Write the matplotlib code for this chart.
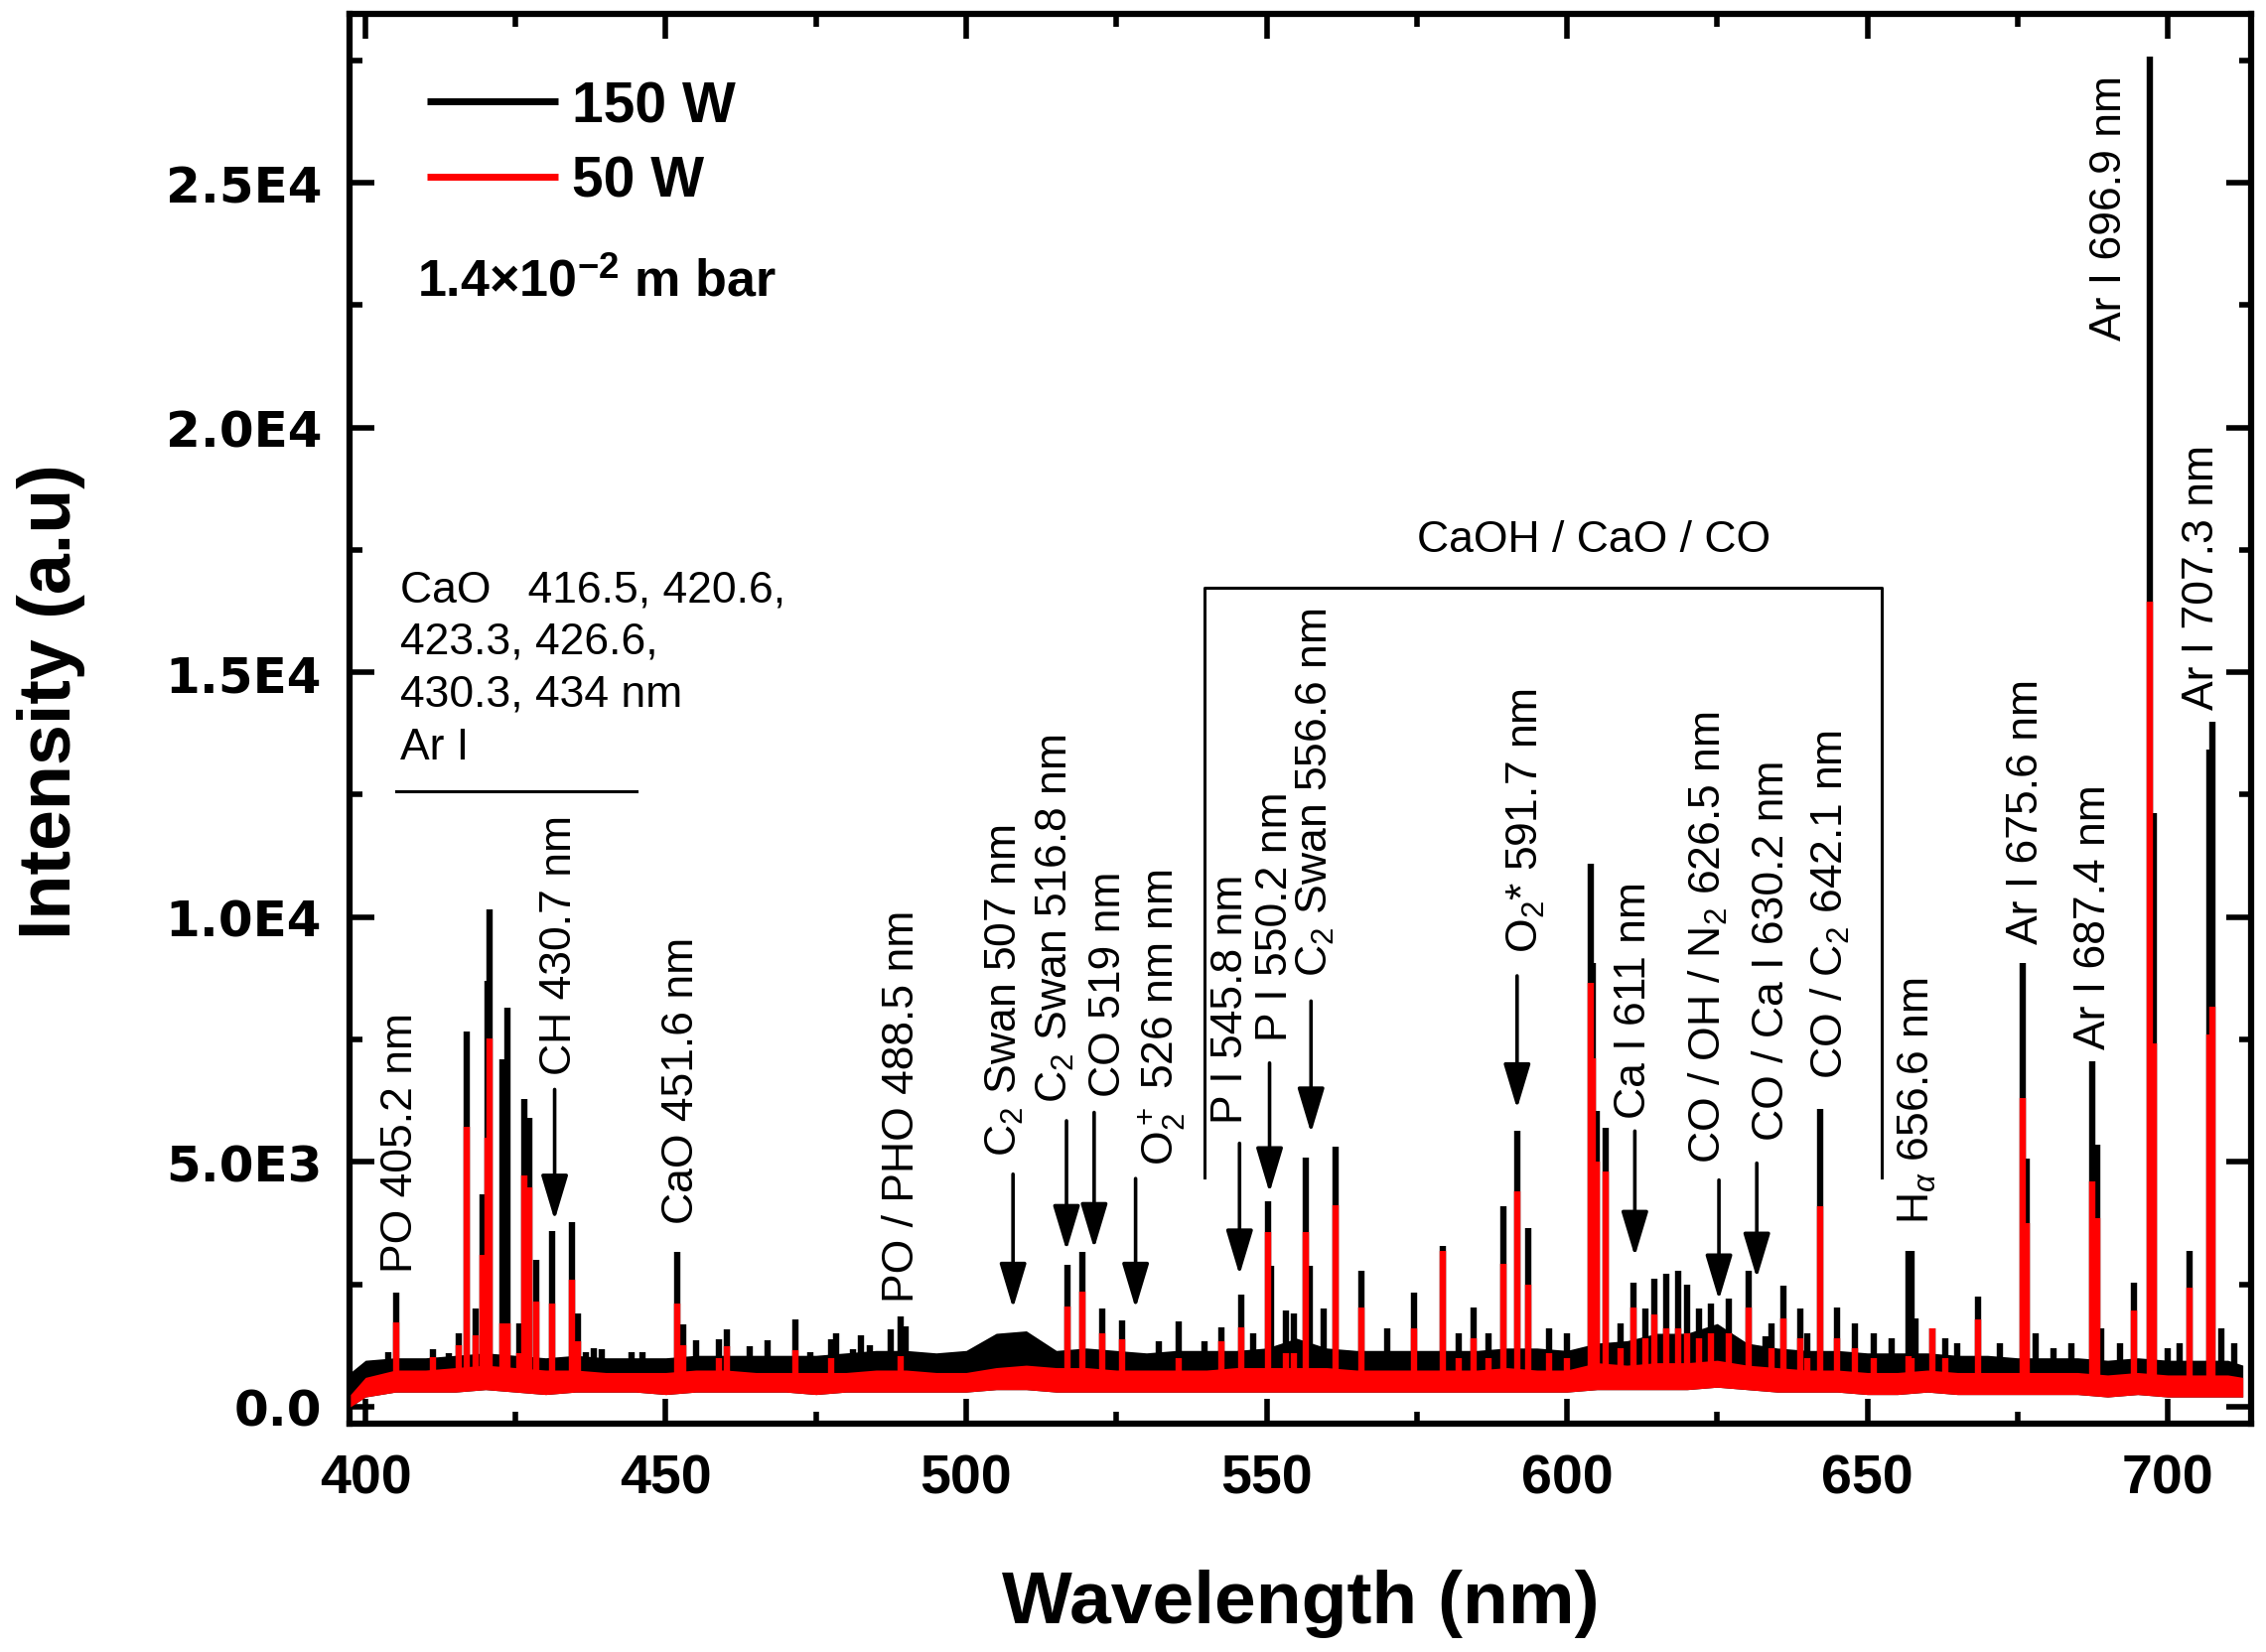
import numpy as np
import matplotlib
matplotlib.use("Agg")
import matplotlib.pyplot as plt
from matplotlib.ticker import MultipleLocator, FixedLocator, FixedFormatter

plt.rcParams['font.family'] = ['Liberation Sans', 'DejaVu Sans']
plt.rcParams['mathtext.fontset'] = 'custom'
plt.rcParams['mathtext.rm'] = 'Liberation Sans'
plt.rcParams['mathtext.it'] = 'Liberation Sans:italic'
plt.rcParams['mathtext.bf'] = 'Liberation Sans:bold'

# ---------------- data ----------------
# noise band envelopes (nm, a.u.)
env_wl = [397.5, 400, 405, 410, 415, 420, 425, 430, 435, 440, 445, 450, 455, 460,
          465, 470, 475, 480, 485, 490, 495, 500, 505, 510, 515, 520, 525, 530,
          535, 540, 545, 550, 555, 560, 565, 570, 575, 580, 585, 590, 595, 600,
          605, 610, 615, 620, 625, 630, 635, 640, 645, 650, 655, 660, 665, 670,
          675, 680, 685, 690, 695, 700, 705, 710, 712.5]
env_150_top = [700, 950, 1000, 1000, 1050, 1100, 1050, 1000, 1050, 1000, 1000, 1000,
               1050, 1050, 1050, 1050, 1050, 1100, 1150, 1150, 1100, 1150, 1500, 1550,
               1150, 1200, 1150, 1100, 1150, 1150, 1150, 1200, 1400, 1200, 1150, 1150,
               1150, 1150, 1150, 1200, 1200, 1150, 1300, 1350, 1500, 1500, 1700, 1300,
               1200, 1150, 1150, 1100, 1100, 1100, 1050, 1050, 1000, 1000, 1000, 950,
               1000, 950, 950, 950, 850]
env_50_top = [250, 600, 750, 750, 800, 850, 800, 750, 750, 700, 700, 700, 750, 750,
              700, 700, 700, 700, 750, 750, 700, 700, 800, 850, 800, 800, 750, 750,
              750, 750, 800, 800, 800, 800, 750, 750, 750, 750, 750, 800, 750, 750,
              900, 850, 900, 900, 950, 850, 800, 750, 750, 700, 700, 750, 700, 700,
              700, 700, 700, 650, 700, 650, 650, 650, 600]
env_50_bottom = [0, 200, 300, 300, 300, 350, 300, 250, 300, 300, 300, 250, 300, 300,
                 300, 300, 250, 300, 300, 300, 300, 300, 350, 350, 300, 300, 300, 300,
                 300, 300, 300, 300, 300, 300, 300, 300, 300, 300, 300, 300, 300, 300,
                 350, 350, 350, 350, 400, 350, 300, 300, 300, 250, 250, 300, 250, 250,
                 250, 250, 250, 200, 250, 200, 200, 200, 200]

# emission peaks: wavelength, intensity at 150 W, intensity at 50 W (0 = not visible)
peak_wl = [403.8, 405.2, 411.3, 413.9, 415.5, 416.8, 418.3, 419.5, 420.3, 420.7,
           422.8, 423.6, 425.7, 426.4, 427.2, 428.4, 431.0, 434.4, 435.3, 436.7,
           438.0, 439.3, 444.3, 446.2, 451.9, 452.9, 455.1, 458.9, 460.2, 464.0,
           466.9, 471.5, 474.1, 477.6, 478.4, 481.1, 482.5, 483.9, 487.5, 489.1,
           490.0, 501.7, 516.8, 519.4, 522.7, 526.0, 532.0, 535.3, 539.7, 542.5,
           545.8, 547.7, 550.2, 550.7, 553.3, 554.5, 556.5, 557.2, 559.5, 561.5,
           565.8, 570.0, 574.6, 579.3, 582.0, 584.5, 587.0, 589.4, 591.7, 593.5,
           597.0, 600.0, 603.9, 604.3, 605.0, 606.4, 609.0, 611.0, 613.0, 614.5,
           616.5, 618.5, 620.0, 622.0, 624.0, 627.0, 630.2, 633.0, 634.0, 636.0,
           638.8, 640.0, 642.1, 645.0, 648.0, 651.0, 654.0, 656.8, 657.3, 658.0,
           660.9, 663.0, 665.0, 668.4, 672.0, 675.8, 676.5, 678.0, 681.0, 684.0,
           687.5, 688.2, 689.0, 692.0, 694.3, 697.0, 697.7, 700.0, 702.0, 703.6,
           707.0, 707.4, 709.0, 711.0]
peak_150 = [1110, 2340, 1180, 1100, 1500, 7670, 2000, 4340, 8700, 10150,
            7100, 8150, 1700, 6280, 5900, 3000, 3580, 3780, 1900, 1110,
            1200, 1180, 1110, 1110, 3170, 1690, 1350, 1380, 1590, 1240,
            1350, 1785, 1110, 1380, 1510, 1180, 1450, 1250, 1590, 1850,
            1650, 1210, 2900, 3170, 2010, 1760, 1340, 1740, 1340, 1630,
            2300, 1500, 4200, 2870, 1970, 1900, 5085, 2870, 2005, 5310,
            2770, 1600, 2330, 3275, 1500, 2035, 1500, 4100, 5635, 3658,
            1600, 1500, 11100, 9065, 6040, 5700, 1700, 2540, 2000, 2625,
            2715, 2770, 2500, 2000, 2100, 2200, 2770, 1445, 1700, 2480,
            2000, 1500, 6080, 2035, 1700, 1500, 1400, 3190, 3190, 1800,
            1600, 1400, 1300, 2255, 1300, 9060, 5070, 1500, 1200, 1300,
            7050, 5350, 1600, 1300, 2540, 27580, 12120, 1200, 1300, 3190,
            13430, 14000, 1600, 1300]
peak_50 = [0, 1720, 1010, 0, 1250, 5720, 1450, 3100, 5500, 7530,
           1700, 1700, 1100, 4730, 4490, 2150, 2100, 2600, 1340, 0,
           0, 0, 0, 0, 2110, 1250, 0, 1000, 1240, 0,
           0, 1150, 0, 1000, 0, 0, 0, 0, 0, 1040,
           0, 0, 2055, 2350, 1500, 1375, 0, 1000, 0, 1340,
           1630, 0, 3570, 0, 1100, 1100, 3560, 0, 0, 4120,
           2035, 0, 1600, 3186, 1000, 1400, 1000, 2920, 4395, 2500,
           1100, 1000, 8660, 7118, 5000, 4800, 1200, 2035, 1400, 1890,
           1600, 1600, 1500, 1400, 1500, 1500, 2035, 0, 1200, 1800,
           1400, 1000, 4100, 1400, 1200, 1000, 0, 1030,
           1000, 0, 1600, 1000, 0, 1785, 0, 6300, 3760, 0, 0, 0,
           4600, 3850, 0, 0, 1970, 16440, 7420, 0, 0, 2440,
           7610, 8170, 0, 0]

# line identifications (rotated labels): text, x (nm), bottom of text (a.u.)
label_text = ["PO 405.2 nm", "CH 430.7 nm", "CaO 451.6 nm", "PO / PHO 488.5 nm",
              "C$_2$ Swan 507 nm", "C$_2$ Swan 516.8 nm", "CO 519 nm",
              "O$_2^+$ 526 nm nm", "P I 545.8 nm", "P I 550.2 nm",
              "C$_2$ Swan 556.6 nm", "O$_2$* 591.7 nm", "Ca I 611 nm",
              "CO / OH / N$_2$ 626.5 nm", "CO / Ca I 630.2 nm", "CO / C$_2$ 642.1 nm",
              "H$_\\alpha$ 656.6 nm", "Ar I 675.6 nm", "Ar I 687.4 nm",
              "Ar I 696.9 nm", "Ar I 707.3 nm"]
label_wl = [405.9, 432.4, 452.7, 489.4, 506.4, 514.9, 523.8, 532.4, 544.1, 551.5,
            558.2, 593.2, 611.1, 623.5, 634.2, 643.8, 658.4, 676.4, 687.7, 690.4, 705.7]
label_y = [2765, 6790, 3750, 2156, 5130, 6220, 6348, 4956, 5805, 7485,
           8800, 9295, 5900, 4990, 5444, 6710, 3750, 9473, 7320, 21800, 14260]

# arrows: x (nm), tail and tip (a.u.)
arrow_wl = [431.5, 507.8, 516.7, 521.3, 528.2, 545.5, 550.5, 557.4, 591.7, 611.3, 625.3, 631.6]
arrow_tail = [6480, 4750, 5840, 6010, 4660, 5380, 7020, 8285, 8800, 5630, 4630, 4975]
arrow_tip = [3810, 2010, 3190, 3230, 2010, 2690, 4370, 5590, 6085, 3070, 2180, 2625]

xtick_vals = [400, 450, 500, 550, 600, 650, 700]
ytick_vals = [0, 5000, 10000, 15000, 20000, 25000]
ytick_labels = ["0.0", "5.0E3", "1.0E4", "1.5E4", "2.0E4", "2.5E4"]

# ---------------- figure ----------------
fig = plt.figure(figsize=(22.82, 16.65), dpi=100)
ax = fig.add_axes([0.15425, 0.13814, 0.83918, 0.85285])

pw = np.array(peak_wl)
p150 = np.array(peak_150, dtype=float)
p50 = np.array(peak_50, dtype=float)
b150 = np.interp(pw, env_wl, env_150_top)
b50 = np.interp(pw, env_wl, env_50_top)

LW = 4.6
ax.fill_between(env_wl, env_50_bottom, env_150_top, color='black', lw=0, zorder=2)
m = p150 > b150
ax.vlines(pw[m], b150[m] - 200, p150[m], color='black', lw=LW, zorder=2, label='150 W')
ax.fill_between(env_wl, env_50_bottom, env_50_top, color='red', lw=0, zorder=3)
m = p50 > b50
ax.vlines(pw[m], b50[m] - 200, p50[m], color='red', lw=LW, zorder=3, label='50 W')

ax.set_xlim(397.36, 713.88)
ax.set_ylim(-345, 28447)

# ticks
ax.xaxis.set_major_locator(FixedLocator(xtick_vals))
ax.xaxis.set_major_formatter(FixedFormatter([str(v) for v in xtick_vals]))
ax.xaxis.set_minor_locator(MultipleLocator(25))
ax.yaxis.set_major_locator(FixedLocator(ytick_vals))
ax.yaxis.set_major_formatter(FixedFormatter(ytick_labels))
ax.yaxis.set_minor_locator(MultipleLocator(2500))
ax.tick_params(which='both', direction='in', top=True, right=True, width=4)
ax.tick_params(which='major', length=18)
ax.tick_params(which='minor', length=9)
ax.tick_params(axis='x', which='major', pad=21, labelsize=40)
ax.tick_params(axis='y', which='major', pad=20, labelsize=36)
for lbl in ax.get_xticklabels():
    lbl.set_fontweight('bold')
for lbl in ax.get_yticklabels():
    lbl.set_fontweight('bold')
    lbl.set_fontfamily('DejaVu Sans')
for s in ax.spines.values():
    s.set_linewidth(4.5)

ax.set_xlabel('Wavelength (nm)', fontsize=54, fontweight='bold')
ax.xaxis.label.set_va('center')
ax.xaxis.set_label_coords(0.5, -0.1271)
ax.set_ylabel('Intensity (a.u)', fontsize=53, fontweight='bold')
ax.yaxis.label.set_va('center')
ax.yaxis.set_label_coords(-0.157, 0.513)

# legend
leg = ax.legend(loc='upper left', bbox_to_anchor=(0.0407, 0.9535), frameon=False,
                prop=dict(weight='bold', size=41), handlelength=2.32,
                handletextpad=0.25, labelspacing=0.38, borderpad=0, borderaxespad=0)
for h in leg.legend_handles:
    h.set_linewidth(5)

ax.text(408.6, 22700, "1.4×10$^{\\mathbf{-2}}$ m bar", fontsize=37.5, fontweight='bold',
        ha='left', va='baseline')

# annotations
for t, x, y in zip(label_text, label_wl, label_y):
    ax.text(x, y, t, rotation=90, ha='center', va='bottom', fontsize=32, zorder=5)

for x, y0, y1 in zip(arrow_wl, arrow_tail, arrow_tip):
    ax.annotate('', xy=(x, y1), xytext=(x, y0),
                arrowprops=dict(arrowstyle='-|>,head_length=1.0,head_width=0.3',
                                mutation_scale=28, lw=2.6, color='black',
                                shrinkA=0, shrinkB=0), zorder=5)

ax.text(405.83, 17110, "CaO   416.5, 420.6,\n423.3, 426.6,\n430.3, 434 nm\nAr I",
        fontsize=32, ha='left', va='top', linespacing=1.37)
ax.plot([405.2, 445.2], [12567, 12567], color='black', lw=2.2)

ax.text(604.5, 17712, "CaOH / CaO / CO", fontsize=32, ha='center', va='center')
ax.plot([539.7, 539.7, 652.4, 652.4], [4690, 16727, 16727, 4690], color='black', lw=2.2)

fig.savefig('out.png', dpi=100)
